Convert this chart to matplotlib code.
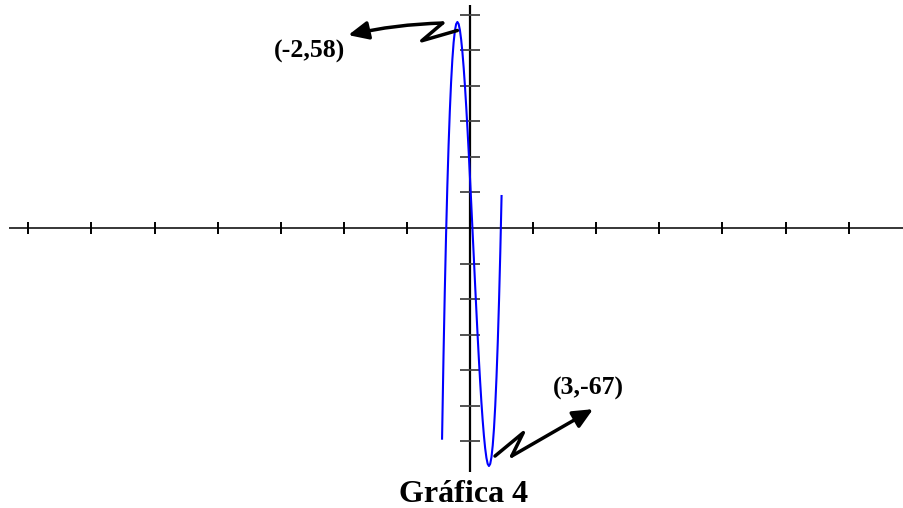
import numpy as np
import matplotlib
matplotlib.use("Agg")
import matplotlib.pyplot as plt
from matplotlib.patches import FancyArrowPatch

# DATA

X = [-4.43, -4.2, -4.0, -3.8, -3.6, -3.4, -3.2, -3.0, -2.8, -2.6, -2.4, -2.2,
     -2.0, -1.8, -1.6, -1.4, -1.2, -1.0, -0.8, -0.6, -0.4, -0.2, 0.0, 0.2,
     0.4, 0.6, 0.8, 1.0, 1.2, 1.4, 1.6, 1.8, 2.0, 2.2, 2.4, 2.6, 2.8, 3.0,
     3.2, 3.4, 3.6, 3.8, 4.0, 4.2, 4.4, 4.6, 4.8, 5.0]
Y = [-59.3, -35.9, -18.0, -2.3, 11.4, 23.1, 32.9, 41.0, 47.4, 52.2, 55.5, 57.4,
     58.0, 57.4, 55.7, 53.0, 49.4, 45.0, 39.9, 34.1, 27.8, 21.1, 14.0, 6.7,
     -0.8, -8.2, -15.7, -23.0, -30.1, -36.8, -43.1, -48.9, -54.0, -58.4, -62.0, -64.7, -66.4, -67.0,
     -66.4, -64.5, -61.2, -56.4, -50.0, -41.9, -32.1, -20.4, -6.7, 9.0]

X_TICKS = [-70, -60, -50, -40, -30, -20, -10, 10, 20, 30, 40, 50, 60]
Y_TICKS = [-60, -50, -40, -30, -20, -10, 10, 20, 30, 40, 50, 60]

MAX_LABEL = "(-2,58)"
MIN_LABEL = "(3,-67)"
TITLE = "Gráfica 4"

# zigzag pointers (data units)
MAX_ZIG = [(-2.0, 55.6), (-7.65, 52.7), (-4.33, 57.7)]
MAX_TIP = (-19.3, 54.3)
MIN_ZIG = [(3.96, -64.2), (8.45, -57.6), (6.61, -64.2)]
MIN_TIP = (19.5, -51.0)

# FIGURE

fig = plt.figure(figsize=(9.04, 5.08), dpi=100)
ax = fig.add_axes([0, 0, 1, 1])
ax.set_xlim(-74.49, 68.78)
ax.set_ylim(-78.82, 64.18)
ax.axis("off")

# AXES

ax.plot([-73, 68.78], [0, 0], color="black", lw=1.1, solid_capstyle="butt")
ax.plot([0, 0], [-68.6, 62.8], color="black", lw=1.6, solid_capstyle="butt")

for t in X_TICKS:
    ax.plot([t, t], [-1.7, 1.7], color="black", lw=1.4, solid_capstyle="butt")
for t in Y_TICKS:
    ax.plot([-1.6, 1.6], [t, t], color="#444444", lw=1.3, solid_capstyle="butt")

# CURVE

ax.plot(X, Y, color="#0000ff", lw=1.5)

# POINTERS

def pointer(zig, tip, rad=0.0):
    xs, ys = zip(*zig)
    ax.plot(xs, ys, color="black", lw=2.5, solid_joinstyle="round",
            solid_capstyle="round")
    arr = FancyArrowPatch(zig[-1], tip, arrowstyle="-|>,head_length=1.2,head_width=0.55",
                          mutation_scale=10, connectionstyle=f"arc3,rad={rad}",
                          color="black", lw=2.5, shrinkA=0, shrinkB=0)
    ax.add_patch(arr)

pointer(MAX_ZIG, MAX_TIP, rad=0.05)
pointer(MIN_ZIG, MIN_TIP)

# LABELS

font = dict(family="Liberation Serif", weight="bold")
ax.text(-25.5, 49.7, MAX_LABEL, ha="center", va="center", fontsize=18.5, **font)
ax.text(18.75, -45.3, MIN_LABEL, ha="center", va="center", fontsize=18.5, **font)
ax.text(-1.1, -77.2, TITLE, ha="center", va="baseline", fontsize=23, **font)

fig.savefig("out.png", dpi=100)
